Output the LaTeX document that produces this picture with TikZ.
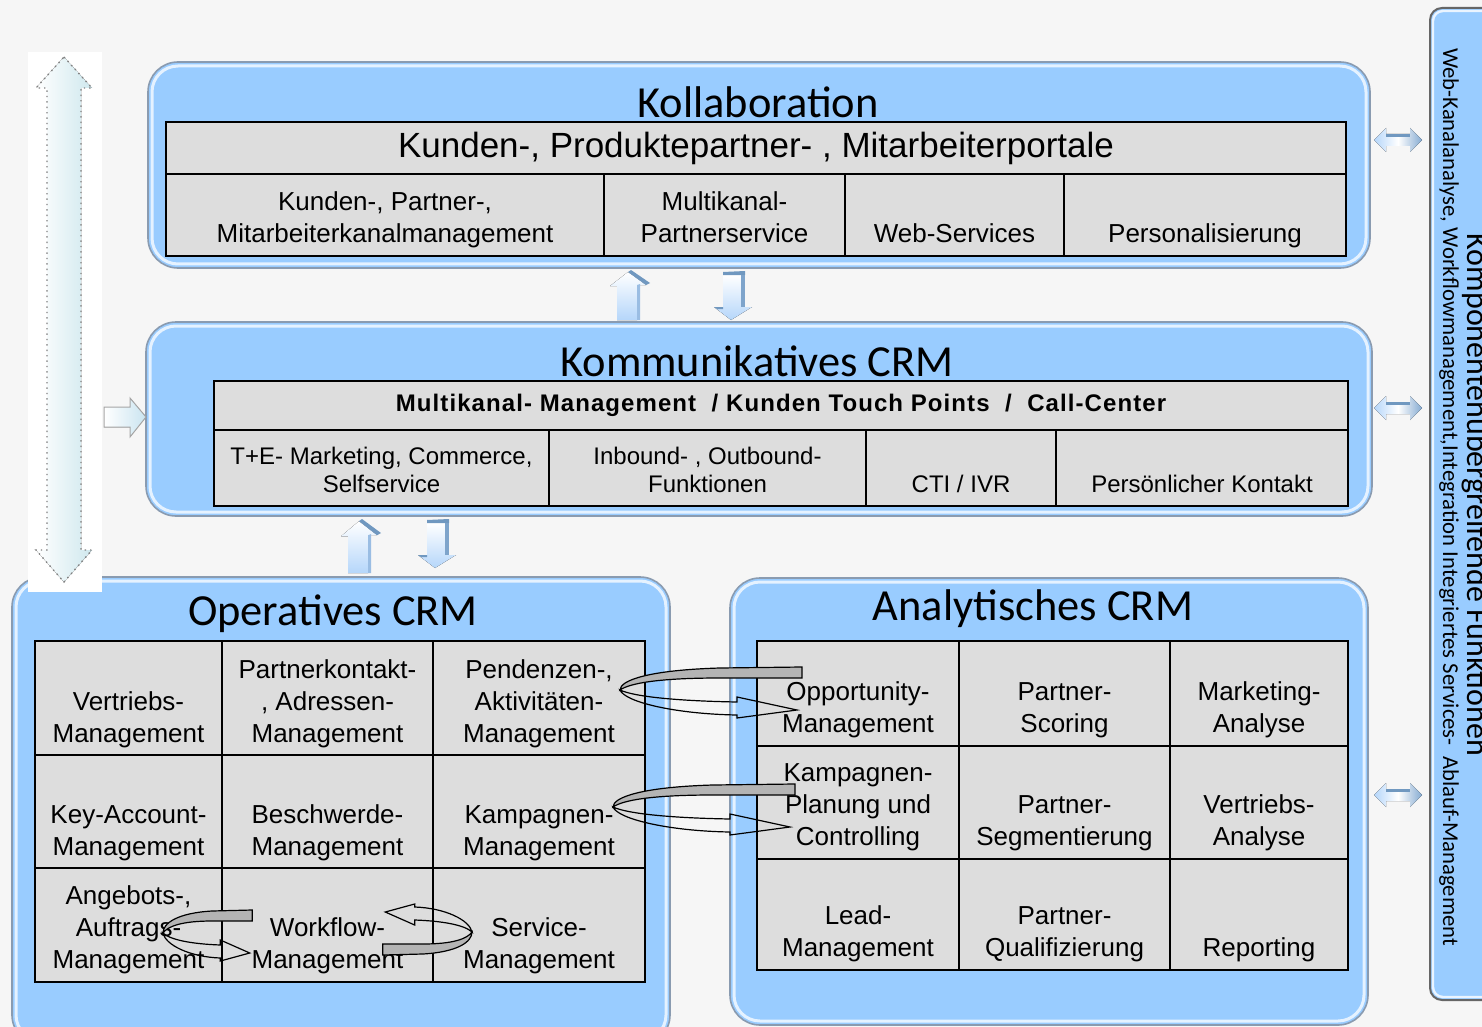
\documentclass[tikz,border=0pt]{standalone}
\usepackage{fontspec}
\setmainfont{Liberation Sans}
\newfontfamily\tfont{Carlito}
\newfontfamily\hdfont[LetterSpace=4.5]{Liberation Sans}
\usetikzlibrary{calc}
\definecolor{panelblue}{HTML}{99CCFF}
\definecolor{cellgray}{HTML}{DDDDDD}
\definecolor{ribbon}{HTML}{B4B4B4}
\definecolor{arrdark}{HTML}{7098C0}
\definecolor{arrlight}{HTML}{B5D6FA}
\definecolor{bgc}{HTML}{F6F6F6}
\definecolor{panedge}{HTML}{8A9BB0}
\definecolor{cyanlight}{HTML}{CFE8EE}
\tikzset{
  panel/.style={rectangle, rounded corners=15pt, fill=panelblue, draw=panedge, line width=0.8pt, inner sep=0pt, outer sep=0pt},
  panelhl/.style={draw=white, draw opacity=0.75, line width=1.5pt, rounded corners=13pt},
  cell/.style={rectangle, fill=cellgray, draw=black, line width=1pt, inner sep=0pt, outer sep=0pt},
  bodyA/.style={font=\fontsize{13}{16}\selectfont, align=center, inner sep=0pt},
  bodyB/.style={font=\fontsize{12}{14}\selectfont, align=center, inner sep=0pt},
  ttl/.style={font=\tfont\fontsize{22.2}{26}\selectfont, inner sep=0pt, anchor=base},
  swirl/.pic={
    \filldraw[fill=ribbon, draw=black, line width=0.6pt] (182,-23) -- (100,-22) .. controls (30,-20) and (0,-10) .. (0,0) .. controls (10,-7) and (40,-12) .. (100,-12) -- (182,-12) -- cycle;
    \draw[line width=0.6pt] (0,0) .. controls (15,7) and (60,11) .. (117,12) -- (117,7) -- (177,20) -- (117,28) -- (117,25) .. controls (55,24) and (5,12) .. cycle;
  },
  uparr/.pic={
    \fill[top color=white, bottom color=arrlight] (-11,0) -- (-11,-34) -- (-18,-34) -- (0,-48) -- (18,-35) -- (9,-35) -- (9,0) -- cycle;
    \fill[arrdark] (0,-48) -- (3,-50) -- (22,-37) -- (18,-35) -- cycle;
    \fill[arrlight!60!arrdark] (9,-35) -- (12,-36) -- (12,0) -- (9,0) -- cycle;
  },
  dnarr/.pic={
    \fill[top color=white, bottom color=arrlight] (-10,3) -- (-10,35) -- (-19,35) -- (-2,48) -- (19,35) -- (8,35) -- (8,3) -- cycle;
    \fill[arrdark] (-10,0) -- (12,-1) -- (12,3) -- (-10,3) -- cycle;
    \fill[arrdark!80!arrlight] (8,3) -- (12,3) -- (12,35) -- (8,35) -- cycle;
    \fill[arrdark] (-19,35) -- (-10,35) -- (-10,37) -- (-16,37) -- cycle;
  },
  dblarr/.pic={
    \fill[left color=arrlight, right color=arrdark!70!arrlight, middle color=white] (-24,0) -- (-12,-12) -- (-12,-6) -- (12,-6) -- (12,-12) -- (24,0) -- (12,12) -- (12,6) -- (-12,6) -- (-12,12) -- cycle;
    \fill[arrdark] (-12,-6) rectangle (12,-3);
  }
}
\newcommand\panelbox[5]{%
  \node[panel, minimum width={(#4-#2)*0.5pt}, minimum height={(#5-#3)*0.5pt}, anchor=north west] (#1) at (#2,#3) {};
  \draw[panelhl] ([xshift=2pt,yshift=-2pt]#1.north west) rectangle ([xshift=-2pt,yshift=2pt]#1.south east);
}
\newcommand\tcell[8]{%
  \node[cell, minimum width={(#4-#2)*0.5pt}, minimum height={(#5-#3)*0.5pt}, anchor=north west] (#1) at (#2,#3) {};
  \node[#6, anchor=south] (#1t) at ({(#2+#4)/2},#7) {#8\strut};
}
\begin{document}
\begin{tikzpicture}[x=0.5pt,y=-0.5pt]
\useasboundingbox (0,0) rectangle (1482,1027);
\clip (0,0) rectangle (1482,1027);
\fill[bgc] (0,0) rectangle (1482,1027);

% panels
\panelbox{kol}{148}{62}{1370}{268}
\panelbox{kom}{146}{322}{1372}{516}
\panelbox{ope}{12}{577}{670}{1045}
\panelbox{ana}{730}{578}{1368}{1025}

% left big double arrow
\fill[white] (28,52) rectangle (102,592);
\filldraw[left color=white, right color=cyanlight, draw=gray, dotted, line width=0.7pt]
  (64,57) -- (92,88) -- (81,88) -- (81,550) -- (92,550) -- (64,582) -- (36,550) -- (47,550) -- (47,88) -- (36,88) -- cycle;
% right arrow into Kommunikatives CRM
\filldraw[left color=white, right color=cyanlight!80!arrlight, draw=gray!70, line width=0.5pt]
  (104,407) -- (130,407) -- (130,398) -- (146,417) -- (130,437) -- (130,427) -- (104,427) -- cycle;

% Kollaboration
\node[ttl] (kolT) at (758,118) {Kollaboration};
\node[cell, minimum width={(1346-166)*0.5pt}, minimum height={(174-122)*0.5pt}, anchor=north west, font=\fontsize{17.5}{20}\selectfont] (kolH) at (166,122) {Kunden-, Produktepartner- , Mitarbeiterportale};
\tcell{kol1}{166}{174}{604}{256}{bodyA}{252.5}{Kunden-, Partner-,\\Mitarbeiterkanalmanagement}
\tcell{kol2}{604}{174}{845}{256}{bodyA}{252.5}{Multikanal-\\Partnerservice}
\tcell{kol3}{845}{174}{1064}{256}{bodyA}{252.5}{Web-Services}
\tcell{kol4}{1064}{174}{1346}{256}{bodyA}{252.5}{Personalisierung}

% Kommunikatives CRM
\node[ttl] (komT) at (757,376) {Kommunikatives CRM};
\node[cell, minimum width={(1348-214)*0.5pt}, minimum height={(430-381)*0.5pt}, anchor=north west, font=\hdfont\bfseries\fontsize{12}{14}\selectfont] (komH) at (214,381) {Multikanal- Management\ \ / Kunden Touch Points\ \ /\ \ Call-Center};
\tcell{kom1}{214}{430}{549}{506}{bodyB}{501.5}{T+E- Marketing, Commerce,\\Selfservice}
\tcell{kom2}{549}{430}{866}{506}{bodyB}{501.5}{Inbound- , Outbound-\\Funktionen}
\tcell{kom3}{866}{430}{1056}{506}{bodyB}{501.5}{CTI / IVR}
\tcell{kom4}{1056}{430}{1348}{506}{bodyB}{501.5}{Persönlicher Kontakt}

% Operatives CRM
\node[ttl] (opeT) at (333,625) {Operatives CRM};
\tcell{o11}{35}{641}{222}{755}{bodyA}{752.6}{Vertriebs-\\Management}
\tcell{o12}{222}{641}{433}{755}{bodyA}{752.6}{Partnerkontakt-\\, Adressen-\\Management}
\tcell{o13}{433}{641}{645}{755}{bodyA}{752.6}{Pendenzen-,\\Aktivitäten-\\Management}
\tcell{o21}{35}{755}{222}{868}{bodyA}{865.6}{Key-Account-\\Management}
\tcell{o22}{222}{755}{433}{868}{bodyA}{865.6}{Beschwerde-\\Management}
\tcell{o23}{433}{755}{645}{868}{bodyA}{865.6}{Kampagnen-\\Management}
\tcell{o31}{35}{868}{222}{982}{bodyA}{978.6}{Angebots-,\\Auftrags-\\Management}
\tcell{o32}{222}{868}{433}{982}{bodyA}{978.6}{Workflow-\\Management}
\tcell{o33}{433}{868}{645}{982}{bodyA}{978.6}{Service-\\Management}

% Analytisches CRM
\node[ttl] (anaT) at (1033,620) {Analytisches CRM};
\tcell{a11}{757}{641}{959}{746}{bodyA}{742.6}{Opportunity-\\Management}
\tcell{a12}{959}{641}{1170}{746}{bodyA}{742.6}{Partner-\\Scoring}
\tcell{a13}{1170}{641}{1348}{746}{bodyA}{742.6}{Marketing-\\Analyse}
\tcell{a21}{757}{746}{959}{859}{bodyA}{855.6}{Kampagnen-\\Planung und\\Controlling}
\tcell{a22}{959}{746}{1170}{859}{bodyA}{855.6}{Partner-\\Segmentierung}
\tcell{a23}{1170}{746}{1348}{859}{bodyA}{855.6}{Vertriebs-\\Analyse}
\tcell{a31}{757}{859}{959}{970}{bodyA}{966.6}{Lead-\\Management}
\tcell{a32}{959}{859}{1170}{970}{bodyA}{966.6}{Partner-\\Qualifizierung}
\tcell{a33}{1170}{859}{1348}{970}{bodyA}{966.6}{Reporting}

% swirl arrows
\pic at (620,690) {swirl};
\pic at (613,807) {swirl};
\pic[xscale=0.49] at (163,933) {swirl};
\pic[rotate=180, xscale=0.49] at (472,932) {swirl};

% vertical 3D arrows between layers
\pic at (628,320) {uparr};
\pic at (733,272) {dnarr};
\pic[yscale=1.08] at (359,573) {uparr};
\pic at (437,520) {dnarr};

% right side double arrows
\pic at (1398,140) {dblarr};
\pic at (1398,408) {dblarr};
\pic at (1398,795) {dblarr};

% right box
\node[panel, rounded corners=6pt, draw=gray!80!black, line width=1pt, minimum width={(1520-1430)*0.5pt}, minimum height={(1000-8)*0.5pt}, anchor=north west] (rbox) at (1430,8) {};
\draw[draw=white, draw opacity=0.8, line width=1.2pt, rounded corners=5pt] (1433,11) rectangle (1520,997);
\node[rotate=-90, anchor=base, inner sep=0pt, font=\tfont\fontsize{16}{18}\selectfont] (rT) at (1467,495) {Komponentenübergreifende Funktionen};
\node[rotate=-90, anchor=base, inner sep=0pt, font=\tfont\fontsize{11.35}{13}\selectfont] (rS) at (1443,497) {Web-Kanalanalyse, Workflowmanagement,Integration Integriertes Services-\ \ Ablauf-Management};
\end{tikzpicture}
\end{document}
